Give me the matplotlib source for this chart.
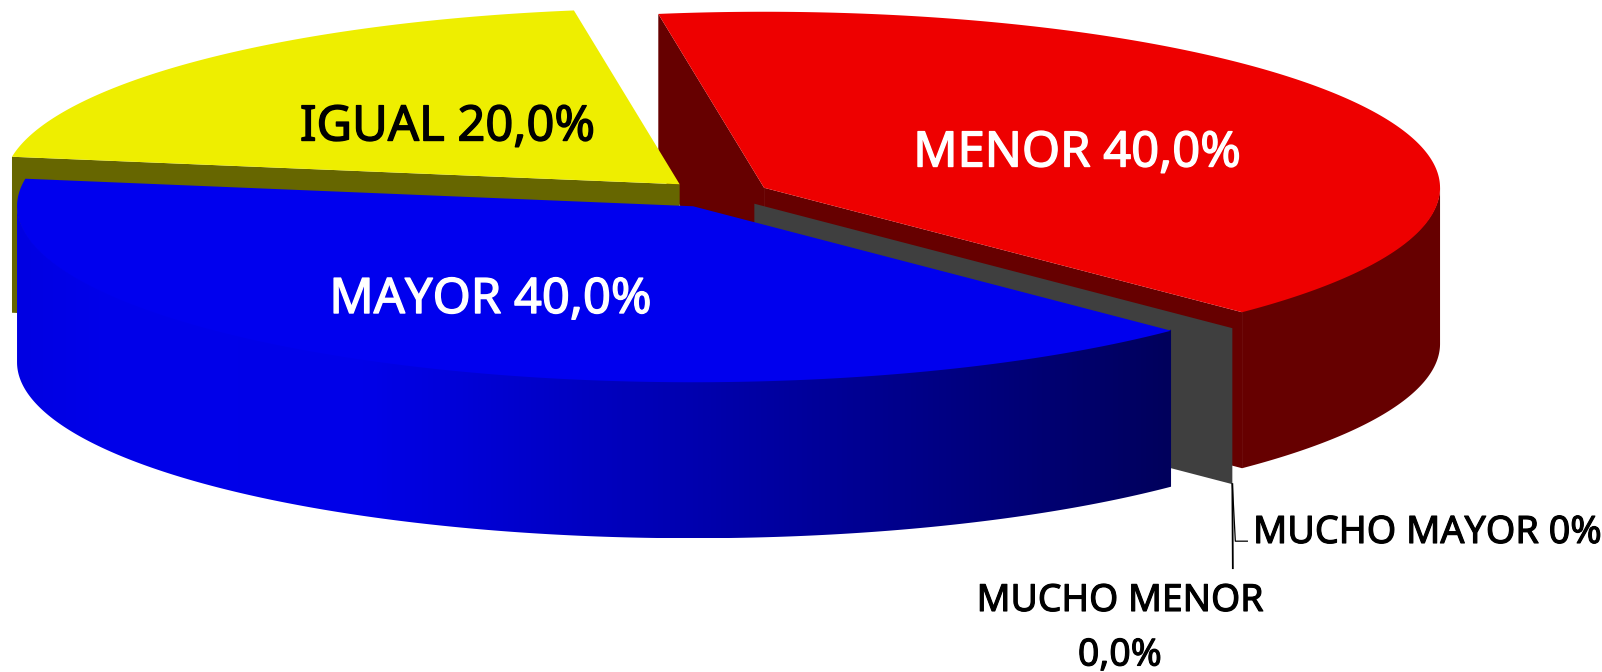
import numpy as np
import matplotlib
matplotlib.use("Agg")
import matplotlib.pyplot as plt
import matplotlib.patheffects as pe
from matplotlib.patches import Polygon
from matplotlib.colors import LinearSegmentedColormap

# ---- data ----
categories = ["MENOR", "MUCHO MAYOR", "MUCHO MENOR", "MAYOR", "IGUAL"]
values = [40.0, 0.0, 0.0, 40.0, 20.0]
top_colors = ["#ee0000", "#eeee00", "#0000ee"]
red_top, yellow_top, blue_top = top_colors
red_side, yellow_side, gray_side = "#660000", "#666600", "#3f3f3f"

# ---- layout (pixels of the 1602x672 canvas) ----
W, H = 1602, 672
CX, CY = 717.0, 194.0
RX, RY = 676.0, 176.0
DEPTH = 156.0
EXPLODE = 52.8
START = 99.0
FONT = "Noto Sans"

fig = plt.figure(figsize=(W / 100, H / 100), dpi=100, facecolor="white")
ax = fig.add_axes([0, 0, 1, 1])
ax.set_xlim(0, W)
ax.set_ylim(H, 0)
ax.axis("off")

# slice angles from values (clockwise from START)
total = sum(values)
angles = {}
a = START
for name, v in zip(categories, values):
    b = a - 360.0 * v / total
    angles[name] = (a, b)
    a = b


def center(name):
    a0, a1 = angles[name]
    mid = np.radians((a0 + a1) / 2)
    return CX + EXPLODE * np.cos(mid), CY - EXPLODE * RY / RX * np.sin(mid)


def point(name, deg):
    cx, cy = center(name)
    t = np.radians(deg)
    return cx + RX * np.cos(t), cy - RY * np.sin(t)


def arc(name, d0, d1, n=240):
    cx, cy = center(name)
    t = np.radians(np.linspace(d0, d1, n))
    return np.column_stack([cx + RX * np.cos(t), cy - RY * np.sin(t)])


def top(name):
    a0, a1 = angles[name]
    return np.vstack([[center(name)], arc(name, a0, a1)])


def cut_wall(name, deg):
    c = np.array(center(name))
    p = np.array(point(name, deg))
    d = np.array([0, DEPTH])
    return np.array([c, p, p + d, c + d])


def outer_wall(name, d0, d1, overlap=1.0):
    pts = arc(name, d0, d1)
    return np.vstack([pts - [0, overlap], pts[::-1] + [0, DEPTH]])


def poly(pts, color, z):
    ax.add_patch(Polygon(pts, closed=True, facecolor=color, edgecolor="none",
                         antialiased=True, zorder=z))


# back-to-front painting
m0, m1 = angles["MENOR"]
y0, y1 = angles["IGUAL"]
b0, b1 = angles["MAYOR"]

poly(cut_wall("MENOR", m0), red_side, 1)
poly(cut_wall("IGUAL", y0), yellow_side, 2)
poly(top("IGUAL"), yellow_top, 3)
poly(outer_wall("MENOR", m1, 0), red_side, 4)
poly(cut_wall("MENOR", m1), red_side, 4)
poly(top("MENOR"), red_top, 5)
poly(cut_wall("MUCHO MAYOR", angles["MUCHO MAYOR"][0]), gray_side, 6)

# blue wall with a horizontal gradient
wall = outer_wall("MAYOR", b0, -180)
grad = LinearSegmentedColormap.from_list(
    "blue_wall",
    [(0.0, "#0000e2"), (0.08, "#0000ea"), (0.30, "#0000e8"), (1.0, "#00005c")])
x0, x1 = wall[:, 0].min(), wall[:, 0].max()
im = ax.imshow(np.linspace(0, 1, 512).reshape(1, -1), cmap=grad, aspect="auto",
               extent=[x0, x1, wall[:, 1].max(), wall[:, 1].min()], zorder=7,
               interpolation="bilinear")
clip = Polygon(wall, closed=True, transform=ax.transData, facecolor="none", edgecolor="none")
ax.add_patch(clip)
im.set_clip_path(clip)
ax.set_xlim(0, W)
ax.set_ylim(H, 0)
poly(top("MAYOR"), blue_top, 8)

# leader lines from the zero slices
gx, gy = np.array(point("MUCHO MAYOR", angles["MUCHO MAYOR"][0])) + [0, DEPTH]
ax.plot([gx, gx + 0.5], [gy, gy + 84], color="black", lw=1.3, zorder=9)
ax.plot([gx, gx + 3, gx + 15], [gy, gy + 57, gy + 57], color="black", lw=0.9, zorder=9)


def bold(color, w):
    return [pe.withStroke(linewidth=w, foreground=color)]


# labels
big = dict(fontsize=35.2, family=FONT, ha="center", va="center", zorder=10)
small = dict(fontsize=27.2, family=FONT, va="center", zorder=10)
small_c = dict(fontsize=26.9, family=FONT, va="center", ha="center", zorder=10)
ax.text(1077, 153.5, f"{categories[0]} {values[0]:.1f}%".replace(".", ","), color="white",
        path_effects=bold("white", 1.0), **big)
ax.text(447.5, 127.5, f"{categories[4]} {values[4]:.1f}%".replace(".", ","), color="black",
        path_effects=bold("black", 1.0), **big)
ax.text(490.5, 300, f"{categories[3]} {values[3]:.1f}%".replace(".", ","), color="white",
        path_effects=bold("white", 1.0), **big)
ax.text(1253, 533, f"{categories[1]} {values[1]:.0f}%", color="black",
        path_effects=bold("black", 0.8), **small)
ax.text(1120, 601, categories[2], color="black",
        path_effects=bold("black", 0.8), **small_c)
ax.text(1120, 655.5, f"{values[2]:.1f}%".replace(".", ","), color="black",
        path_effects=bold("black", 0.8), **small_c)

fig.savefig("out.png", dpi=100, facecolor="white")
